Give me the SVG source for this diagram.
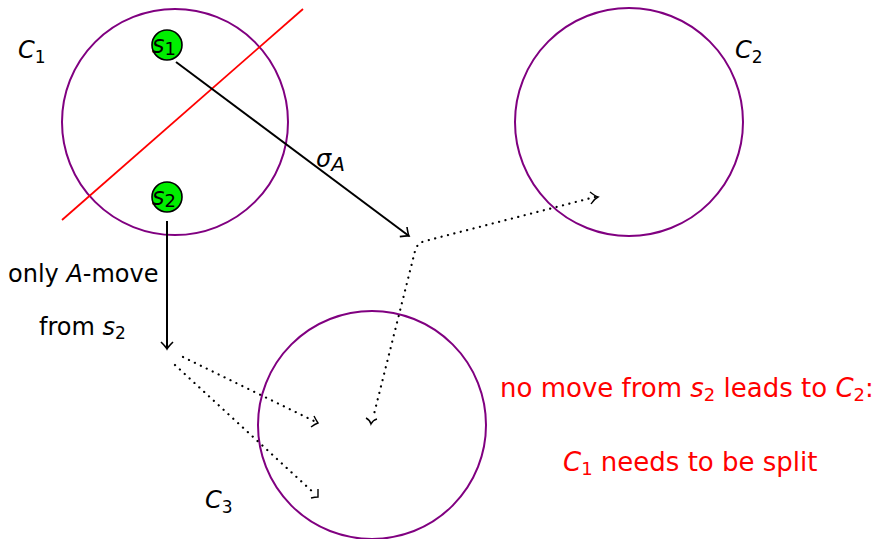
<svg xmlns="http://www.w3.org/2000/svg" width="883" height="539" viewBox="0 0 883 539">
<style>
text{font-family:"DejaVu Sans","Liberation Sans",sans-serif;font-size:24px;fill:#000}
.it{font-style:italic}
.sub{font-size:17px;font-style:normal}
.red{fill:#ff0000;font-size:26px}
.red .sub{font-size:18px}
.cl{fill:none;stroke:#800080;stroke-width:2}
.st{fill:#00ee00;stroke:#000;stroke-width:1.6}
.e{fill:none;stroke:#000;stroke-width:2}
.d{fill:none;stroke:#000;stroke-width:2.2;stroke-dasharray:0.1 6.5;stroke-linecap:round}
.h{fill:none;stroke:#000;stroke-width:1.4}
</style>
<defs>
<marker id="ah" markerWidth="14" markerHeight="14" refX="1" refY="7" orient="auto" markerUnits="userSpaceOnUse" overflow="visible">
<path d="M-6,1 Q-1,6 1,7 Q-1,8 -6,13" fill="none" stroke="#000" stroke-width="1.6"/>
</marker>
</defs>
<g id="C1"><circle class="cl" cx="175" cy="122" r="113"/><text class="it" x="18" y="58">C<tspan class="sub" dy="5">1</tspan></text></g>
<g id="C2"><circle class="cl" cx="629" cy="122" r="114"/><text class="it" x="735" y="58">C<tspan class="sub" dy="5">2</tspan></text></g>
<g id="C3"><circle class="cl" cx="372" cy="425" r="114"/><text class="it" x="205" y="508">C<tspan class="sub" dy="5">3</tspan></text></g>
<g id="split"><line x1="62" y1="220" x2="303" y2="9" stroke="#ff0000" stroke-width="1.8"/></g>
<g id="s1"><circle class="st" cx="167" cy="45" r="15"/><text class="it" x="152" y="53" font-size="24">s<tspan font-size="18" dy="2" font-style="normal">1</tspan></text></g>
<g id="s2"><circle class="st" cx="167" cy="197" r="15"/><text class="it" x="152" y="205" font-size="24">s<tspan font-size="18" dy="2" font-style="normal">2</tspan></text></g>
<g id="connectors">
<line class="e" x1="176" y1="62" x2="409" y2="236" marker-end="url(#ah)"/>
<line class="e" x1="167" y1="221" x2="167" y2="349" marker-end="url(#ah)"/>
<path class="d" d="M595,197 L425,241 Q417,243 415,251 L373,418"/>
<path class="h" d="M590,192 Q595,196 598,197 Q594,199 591,204"/>
<path class="h" d="M366,418 Q370,420 371,424 Q373,420 377,419"/>
<line class="d" x1="183" y1="357" x2="316" y2="422"/>
<path class="h" d="M311,427 Q315,424 318,423 Q316,420 314,416"/>
<line class="d" x1="175" y1="365" x2="315" y2="494"/>
<path class="h" d="M311,498 Q315,497 318,497 Q318,494 318,489"/>
</g>
<g id="labels">
<text class="it" x="316" y="167">σ<tspan font-size="20" dy="4">A</tspan></text>
<text x="8" y="282">only <tspan class="it">A</tspan>-move</text>
<text x="39" y="335">from <tspan class="it">s</tspan><tspan class="sub" dy="4">2</tspan></text>
<text class="red" x="500" y="397">no move from <tspan class="it">s</tspan><tspan class="sub" dy="4">2</tspan><tspan dy="-4"> leads to </tspan><tspan class="it">C</tspan><tspan class="sub" dy="4">2</tspan><tspan dy="-4">:</tspan></text>
<text class="red" x="563" y="471"><tspan class="it">C</tspan><tspan class="sub" dy="4">1</tspan><tspan dy="-4"> needs to be split</tspan></text>
</g>
</svg>
